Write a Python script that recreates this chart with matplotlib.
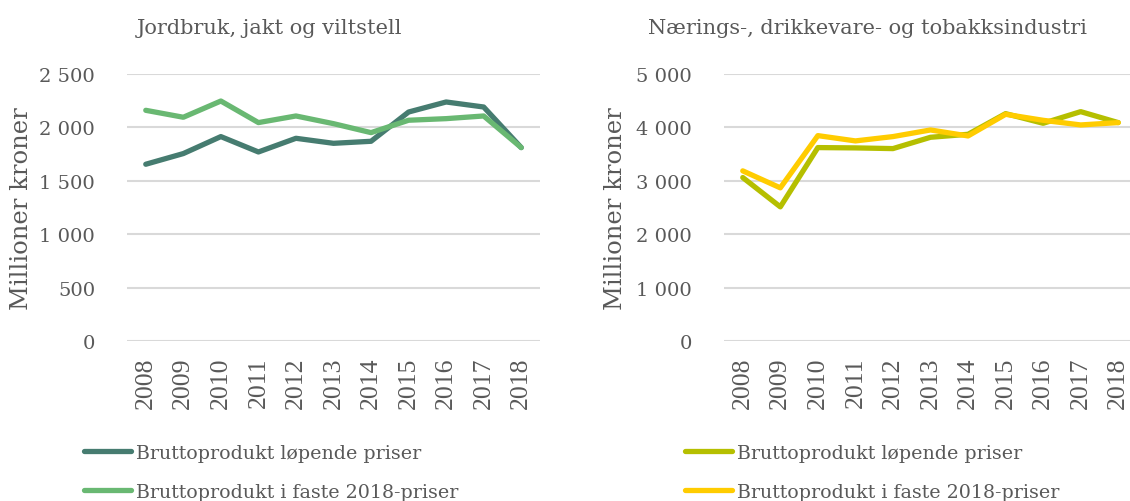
import numpy as np
import matplotlib.pyplot as plt
from matplotlib.ticker import FuncFormatter

# Data
aar = ['2008', '2009', '2010', '2011', '2012', '2013', '2014', '2015', '2016', '2017', '2018']

jordbruk_lopende = [1655, 1755, 1914, 1770, 1898, 1851, 1870, 2144, 2238, 2191, 1811]
jordbruk_faste = [2160, 2095, 2247, 2045, 2107, 2035, 1951, 2067, 2082, 2107, 1811]

naering_lopende = [3061, 2512, 3622, 3616, 3603, 3815, 3871, 4258, 4077, 4295, 4090]
naering_faste = [3186, 2868, 3846, 3747, 3828, 3952, 3840, 4245, 4133, 4046, 4090]

titler = ['Jordbruk, jakt og viltstell', 'Nærings-, drikkevare- og tobakksindustri']
etiketter = ['Bruttoprodukt løpende priser', 'Bruttoprodukt i faste 2018-priser']

tekstfarge = '#595959'
serif = 'DejaVu Serif'
W, H = 1130, 502

fig = plt.figure(figsize=(11.3, 5.02), dpi=100)

def tusen(v, pos):
    return f"{int(v):,}".replace(',', ' ')

def tegn(ax, s1, s2, farger, ymax, steg, tittel, tittel_x, label_x):
    x = np.arange(len(aar))
    l1, = ax.plot(x, s1, color=farger[0], lw=3.8, solid_capstyle='round', label=etiketter[0])
    l2, = ax.plot(x, s2, color=farger[1], lw=3.8, solid_capstyle='round', label=etiketter[1])
    ax.set_xlim(-0.5, len(aar) - 0.5)
    ax.set_ylim(0, ymax)
    ax.set_yticks(np.arange(0, ymax + 1, steg))
    ax.yaxis.set_major_formatter(FuncFormatter(tusen))
    ax.set_xticks(x)
    ax.set_xticklabels(aar, rotation=90, family='Liberation Serif', fontsize=18.5, color=tekstfarge)
    for t in ax.get_yticklabels():
        t.set_family(serif)
        t.set_fontsize(14)
        t.set_color(tekstfarge)
    ax.tick_params(length=0)
    ax.tick_params(axis='y', pad=23)
    ax.tick_params(axis='x', pad=11)
    ax.grid(axis='y', color='#D9D9D9', lw=1.5)
    ax.set_axisbelow(True)
    for s in ax.spines.values():
        s.set_visible(False)
    ax.set_ylabel('Millioner kroner', family=serif, fontsize=17.5, color=tekstfarge)
    ax.yaxis.set_label_coords(label_x, 0.5)
    fig.text(tittel_x / W, 1 - 28 / H, tittel, family=serif, fontsize=15, color=tekstfarge,
             ha='left', va='center')
    return l1, l2

ax1 = fig.add_axes([127 / W, 160 / H, 413 / W, 267 / H])
ax2 = fig.add_axes([724 / W, 160 / H, 413 / W, 267 / H])

h1 = tegn(ax1, jordbruk_lopende, jordbruk_faste, ['#467C70', '#69B872'], 2500, 500,
          titler[0], 137, (33 - 127) / 413)
h2 = tegn(ax2, naering_lopende, naering_faste, ['#B5BF00', '#FFCC00'], 5000, 1000,
          titler[1], 648, (627 - 724) / 413)

for h, x0 in [(h1, 84), (h2, 685)]:
    fig.legend(handles=list(h), loc='upper left', bbox_to_anchor=(x0 / W, 1 - 445 / H),
               frameon=False, prop={'family': serif, 'size': 13.7}, labelcolor=tekstfarge,
               handlelength=2.45, handletextpad=0.3, labelspacing=1.1, borderpad=0,
               borderaxespad=0)

fig.savefig('out.png', dpi=100)
